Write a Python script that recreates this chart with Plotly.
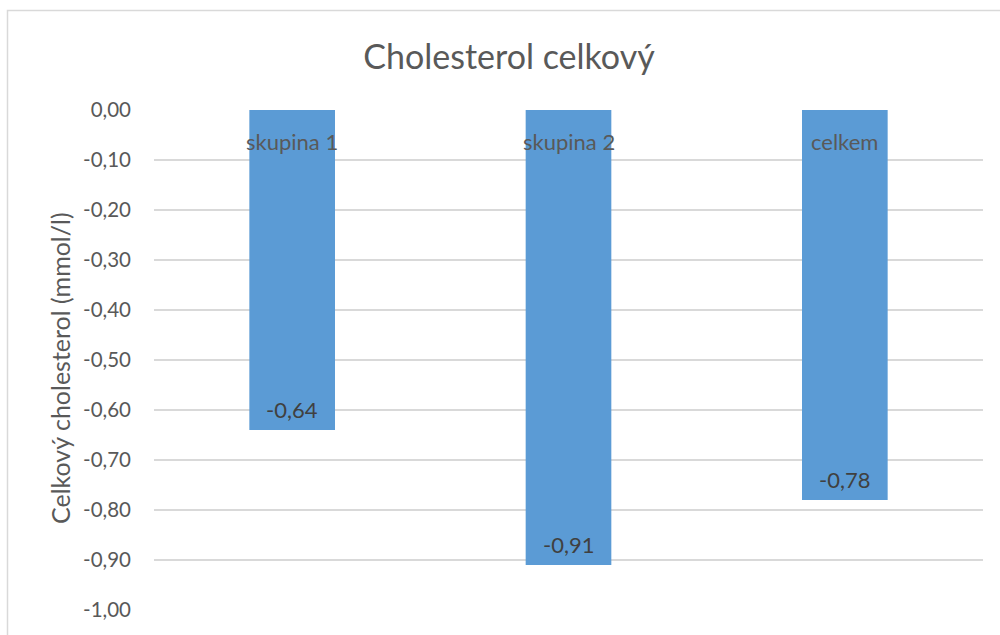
import plotly.graph_objects as go

# Change in total cholesterol per group (mmol/l)
categories = ["skupina 1", "skupina 2", "celkem"]
values = [-0.64, -0.91, -0.78]
tick_values = [0.0, -0.1, -0.2, -0.3, -0.4, -0.5, -0.6, -0.7, -0.8, -0.9, -1.0]


def fmt(v):
    # Czech number format: comma decimal, plain hyphen minus
    s = f"{v:.2f}".replace(".", ",")
    return "0,00" if s == "-0,00" else s


tick_text = [fmt(v) for v in tick_values]

FONT = "Lato"
GREY = "#595959"
DARK = "#404040"
BAR = "#5B9BD5"

W, H = 1000, 635
ml, mr, mt, mb = 154, 17, 110, 25
pw, ph = W - ml - mr, H - mt - mb

fig = go.Figure(
    go.Bar(
        x=categories,
        y=values,
        width=0.31,
        marker=dict(color=BAR, line=dict(width=0)),
        hoverinfo="skip",
    )
)

# Category names sit just under the zero line
for c in categories:
    fig.add_annotation(
        x=c, y=0, xref="x", yref="y", text=c, showarrow=False,
        yanchor="middle", yshift=-31,
        font=dict(family=FONT, size=22, color=GREY),
    )

# Value labels inside the end of each bar
for c, v in zip(categories, values):
    fig.add_annotation(
        x=c, y=v, xref="x", yref="y", text=fmt(v), showarrow=False,
        yanchor="middle", yshift=21,
        font=dict(family=FONT, size=22, color=DARK),
    )

# Vertical axis title
fig.add_annotation(
    x=(60 - ml) / pw, y=(H - mb - 368) / ph, xref="paper", yref="paper",
    text="Celkový cholesterol (mmol/l)", showarrow=False, textangle=-90,
    xanchor="center", yanchor="middle",
    font=dict(family=FONT, size=25, color=GREY),
)

# Light outer frame around the chart area
fig.add_shape(
    type="rect", xref="paper", yref="paper",
    x0=(7.5 - ml) / pw, x1=(1010 - ml) / pw,
    y0=-(mb + 10) / ph, y1=1 + (mt - 10.5) / ph,
    line=dict(color="#D9D9D9", width=1.5), fillcolor="rgba(0,0,0,0)", layer="below",
)

fig.update_layout(
    width=W, height=H,
    margin=dict(l=ml, r=mr, t=mt, b=mb),
    paper_bgcolor="white", plot_bgcolor="white",
    showlegend=False,
    title=dict(
        text="Cholesterol celkový", x=0.509, xref="container", xanchor="center",
        y=1 - 57 / H, yref="container", yanchor="middle",
        font=dict(family=FONT, size=34, color=GREY),
    ),
    xaxis=dict(
        showticklabels=False, showgrid=False, zeroline=False, showline=False,
        range=[-0.5, 2.5],
    ),
    yaxis=dict(
        range=[-1.0, 0.0],
        tickvals=tick_values, ticktext=tick_text,
        tickfont=dict(family=FONT, size=20.5, color=GREY),
        ticklabelstandoff=22,
        showgrid=True, gridcolor="#D9D9D9", gridwidth=1.5,
        zeroline=False, showline=False,
    ),
)

fig.write_html("out.html")
